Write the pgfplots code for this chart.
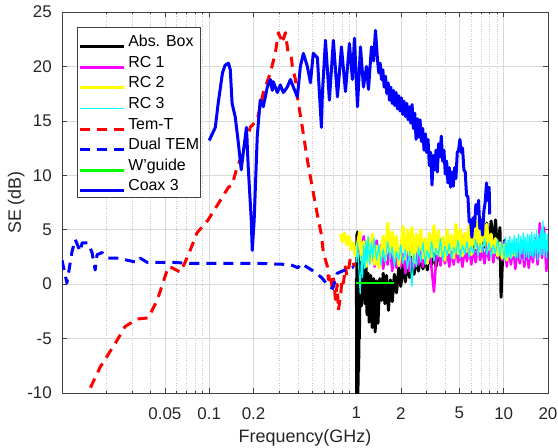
\documentclass[border=0pt]{standalone}
\usepackage{pgfplots}
\pgfplotsset{compat=1.18}
\usepackage{fontspec}
\setmainfont{Liberation Sans}
\definecolor{cMag}{rgb}{1,0,1}
\definecolor{cYel}{rgb}{1,1,0}
\definecolor{cCya}{rgb}{0,1,1}
\definecolor{cRed}{rgb}{1,0,0}
\definecolor{cBlu}{rgb}{0,0,1}
\definecolor{cGre}{rgb}{0,1,0}
\begin{document}
\begin{tikzpicture}
\useasboundingbox (-62bp,-55bp) rectangle (496bp,393bp);
\begin{axis}[
  at={(0,0)}, anchor=south west,
  width=486bp, height=381bp, scale only axis,
  xmode=log, log basis x=10,
  xmin=0.01, xmax=20, ymin=-10, ymax=25,
  xtick={0.05,0.1,0.2,1,2,5,10,20},
  xticklabels={0.05,0.1,0.2,1,2,5,10,20},
  minor xtick={0.02,0.03,0.04,0.06,0.07,0.08,0.09,0.3,0.4,0.5,0.6,0.7,0.8,0.9,3,4,6,7,8,9},
  ytick={-10,-5,0,5,10,15,20,25},
  yticklabels={-10,-5,0,5,10,15,20,25},
  /pgf/number format/assume math mode=true,
  tick align=inside, tick pos=both,
  major tick length=5bp, minor tick length=2.5bp,
  tick style={black!75, line width=0.5bp},
  axis line style={black!75, line width=0.5bp},
  grid=both,
  major grid style={black!15, line width=0.5bp},
  minor grid style={black!22, line width=0.5bp, dotted},
  ticklabel style={font=\fontsize{17}{20}\selectfont, text=black!85},
  xticklabel style={inner sep=0pt, yshift=-14bp},
  yticklabel style={inner sep=0pt, xshift=-10bp},
  xlabel={Frequency(GHz)}, ylabel={SE (dB)},
  label style={font=\fontsize{18}{21}\selectfont, text=black!85},
  xlabel style={at={(axis description cs:0.5,-0.1312)}, anchor=base},
  ylabel style={at={(axis description cs:-0.0844,0.5)}, anchor=base},
  legend style={at={(axis description cs:0.0309,0.9606)}, anchor=north west,
    draw=black!75, line width=0.5bp, fill=white,
    font=\fontsize{16}{19}\selectfont,
    inner xsep=1.5bp, inner ysep=3.4bp, row sep=1.6bp, column sep=2.5bp,
    nodes={inner xsep=0bp, inner ysep=0bp, text height=16bp, text depth=3bp, anchor=base west}},
  legend cell align=left,
  legend image code/.code={\draw[#1] (0bp,0bp) -- (44bp,0bp);},
  every axis plot/.append style={line join=round},
]
% Abs. Box
\addplot[black, line width=3bp] coordinates {
(1.000,0.5) (1.003,-10.5) (1.008,4.6) (1.013,-10.5) (1.018,4.8) (1.024,-10.5) (1.030,4.4) (1.036,-8.0)
(1.042,4.2) (1.048,-5.0) (1.055,3.8) (1.062,-1.5) (1.07,3.0) (1.08,-2.0) (1.09,2.5) (1.10,-1.0)
(1.12,2.0) (1.14,-1.8) (1.16,1.8) (1.18,-2.8) (1.20,1.0) (1.22,-3.5) (1.25,0.8) (1.28,-4.0)
(1.31,0.5) (1.34,-4.4) (1.37,0.3) (1.40,-3.6) (1.44,0.5) (1.48,-1.5) (1.52,1.0) (1.56,-1.8)
(1.60,0.8) (1.65,-2.4) (1.70,0.4) (1.75,-1.6) (1.81,0.9) (1.87,-0.8) (1.94,1.5) (2.00,-0.2)
(2.07,1.8) (2.15,0.2) (2.22,2.2) (2.30,0.6) (2.38,2.5) (2.46,0.9) (2.55,2.4) (2.64,1.2)
(2.73,2.8) (2.83,1.4) (2.93,2.6) (3.03,1.3) (3.13,3.0) (3.24,1.8) (3.36,2.8) (3.47,1.6)
(3.60,3.2) (3.72,2.0) (3.85,3.4) (3.99,2.2) (4.13,3.5) (4.27,2.0) (4.42,3.8) (4.58,2.4)
(4.74,4.0) (4.90,2.6) (5.07,4.8) (5.25,2.9) (5.44,4.5) (5.63,3.0) (5.82,4.3) (6.03,2.7)
(6.24,4.6) (6.46,3.2) (6.68,4.9) (6.92,3.1) (7.16,5.4) (7.41,3.4) (7.67,5.6) (7.94,3.0)
(8.22,5.8) (8.51,3.2) (8.80,5.9) (9.11,2.4) (9.43,5.2) (9.60,-1.2) (9.76,1.5) (10.1,4.0) (10.4,2.5)
};
\addlegendentry{Abs. Box}
% RC 1
\addplot[cMag, line width=2.5bp] coordinates {
(1.03,2.5) (1.05,4.2) (1.08,2.8) (1.12,4.4) (1.16,2.2) (1.20,3.6) (1.24,2.0) (1.28,3.2)
(1.33,1.6) (1.37,4.0) (1.42,2.3) (1.47,3.6) (1.52,1.4) (1.57,3.0) (1.63,1.8) (1.69,3.8)
(1.75,1.2) (1.81,2.8) (1.87,1.5) (1.94,3.3) (2.00,1.6) (2.07,2.8) (2.15,1.0) (2.22,3.0)
(2.30,1.2) (2.38,2.4) (2.46,1.5) (2.55,3.4) (2.64,1.8) (2.73,3.1) (2.83,1.6) (2.93,3.5)
(3.03,1.9) (3.13,3.2) (3.24,1.4) (3.36,-0.7) (3.47,2.0) (3.60,3.6) (3.72,1.7) (3.85,3.2)
(3.99,1.9) (4.13,3.4) (4.27,1.6) (4.42,3.1) (4.58,1.8) (4.74,3.6) (4.90,2.0) (5.07,3.0)
(5.25,1.6) (5.44,3.3) (5.63,2.1) (5.82,3.4) (6.03,1.8) (6.24,3.2) (6.46,2.0) (6.68,3.6)
(6.92,2.2) (7.16,3.3) (7.41,1.9) (7.67,3.5) (7.94,2.2) (8.22,3.8) (8.51,2.0) (8.80,3.4)
(9.11,2.4) (9.43,3.6) (9.76,2.2) (10.1,3.9) (10.5,1.6) (10.8,3.4) (11.2,1.8) (11.6,3.6)
(12.0,1.4) (12.4,3.2) (12.9,1.9) (13.3,3.7) (13.8,1.6) (14.3,3.4) (14.8,1.5) (15.3,3.6)
(15.8,2.0) (16.4,4.2) (17.0,1.8) (17.6,5.6) (18.2,2.4) (18.8,5.2) (19.5,1.2) (20.0,4.0)
};
\addlegendentry{RC 1}
% RC 2
\addplot[cYel, line width=3bp] coordinates {
(0.78,4.6) (0.80,3.9) (0.83,4.7) (0.86,3.6) (0.89,4.4) (0.92,3.2) (0.95,3.8) (0.98,2.6)
(1.01,3.4) (1.05,4.8) (1.08,2.2) (1.12,3.9) (1.16,1.6) (1.20,4.2) (1.24,2.0) (1.28,4.6)
(1.33,1.8) (1.37,3.5) (1.42,1.5) (1.47,3.0) (1.52,4.4) (1.57,2.2) (1.63,5.6) (1.69,3.0)
(1.75,4.8) (1.81,2.4) (1.87,4.4) (1.94,1.7) (2.00,3.2) (2.07,5.3) (2.15,2.3) (2.22,5.0)
(2.30,2.6) (2.38,5.2) (2.46,2.0) (2.55,4.6) (2.64,2.8) (2.73,5.0) (2.83,2.4) (2.93,4.2)
(3.03,1.9) (3.13,4.7) (3.24,2.5) (3.36,5.4) (3.47,2.8) (3.60,4.9) (3.72,2.6) (3.85,4.3)
(3.99,2.2) (4.13,5.0) (4.27,2.9) (4.42,4.5) (4.58,2.4) (4.74,5.5) (4.90,2.8) (5.07,5.0)
(5.25,2.6) (5.44,4.7) (5.63,3.0) (5.82,5.4) (6.03,2.7) (6.24,5.6) (6.46,3.3) (6.68,5.8)
(6.92,3.0) (7.16,6.1) (7.41,3.6) (7.67,5.5) (7.94,3.2) (8.22,4.6) (8.51,2.9) (8.80,4.2)
(9.11,2.6) (9.43,3.8) (9.76,2.4) (10.1,3.6) (10.5,2.2) (10.8,3.4) (11.2,2.5) (11.6,3.2) (12.0,2.6)
};
\addlegendentry{RC 2}
% RC 3
\addplot[cCya, line width=1.2bp] coordinates {
(1.00,2.0) (1.02,3.8) (1.04,1.2) (1.06,-0.9) (1.08,2.6) (1.10,0.6) (1.12,3.5) (1.14,1.4)
(1.16,4.0) (1.18,2.0) (1.20,4.4) (1.23,1.8) (1.26,3.8) (1.29,2.4) (1.32,4.2)
(1.37,2.2) (1.42,3.6) (1.47,1.8) (1.52,3.2) (1.57,2.0) (1.63,3.9) (1.69,2.3) (1.75,3.4)
(1.81,1.6) (1.87,3.0) (1.94,2.2) (2.00,3.6) (2.07,1.9) (2.15,3.2) (2.22,1.4) (2.30,3.0)
(2.38,-0.2) (2.46,2.8) (2.55,1.6) (2.64,3.4) (2.73,2.0) (2.83,3.8) (2.93,1.8) (3.03,3.1)
(3.13,2.3) (3.24,3.9) (3.36,2.1) (3.47,3.3) (3.60,2.5) (3.72,4.2) (3.85,2.2) (3.99,3.5)
(4.13,2.6) (4.27,3.7) (4.42,2.3) (4.58,3.4) (4.74,2.8) (4.90,4.0) (5.07,2.4) (5.25,3.6)
(5.44,2.7) (5.63,3.9) (5.82,2.5) (6.03,3.5) (6.24,2.8) (6.46,4.1) (6.68,2.6) (6.92,3.7)
(7.16,2.9) (7.41,4.2) (7.67,2.7) (7.94,3.8) (8.22,2.5) (8.51,3.6) (8.80,2.8) (9.11,4.1)
(9.43,2.6) (9.76,3.9) (10.1,2.2) (10.3,4.3) (10.5,2.4) (10.7,4.0) (10.8,2.5) (11.0,4.4)
(11.2,2.3) (11.4,4.1) (11.6,2.7) (11.8,4.5) (12.0,2.4) (12.2,4.2) (12.4,2.4) (12.6,4.6)
(12.9,2.3) (13.1,4.4) (13.3,2.8) (13.6,4.7) (13.8,2.2) (14.0,4.3) (14.3,2.5) (14.5,4.6)
(14.8,2.3) (15.0,4.5) (15.3,2.6) (15.5,4.8) (15.8,2.4) (16.1,4.6) (16.4,2.6) (16.7,4.9)
(17.0,2.2) (17.3,4.6) (17.6,2.5) (17.9,5.0) (18.2,2.7) (18.5,5.8) (18.8,2.6) (19.1,4.8)
(19.5,2.4) (19.8,4.6) (20.0,3.0)
};
\addlegendentry{RC 3}
% Tem-T
\addplot[cRed, line width=3bp, dash pattern=on 10bp off 7bp] coordinates {
(0.0145,-11.0) (0.0150,-10.0) (0.0182,-7.6) (0.0231,-5.4) (0.0268,-3.9) (0.0299,-3.5)
(0.0324,-3.2) (0.0385,-3.1) (0.0443,-1.5) (0.0487,0.2) (0.0527,1.6) (0.0560,1.5)
(0.0635,1.1) (0.0680,1.9) (0.0742,3.1) (0.0825,4.7) (0.0983,5.9) (0.119,7.7) (0.135,8.9)
(0.143,9.1) (0.155,10.8) (0.170,12.0) (0.190,14.4) (0.212,15.1) (0.233,17.6) (0.260,19.4)
(0.281,21.2) (0.295,23.1) (0.305,22.6) (0.312,23.0) (0.319,22.5) (0.329,23.1) (0.344,21.2)
(0.360,21.0) (0.367,20.0) (0.385,18.8) (0.397,17.2) (0.429,14.4) (0.464,11.4) (0.509,8.4)
(0.551,5.9) (0.575,4.7) (0.596,2.9) (0.635,1.6) (0.645,0.4) (0.66,1.0) (0.687,-0.5)
(0.70,0.5) (0.720,-1.4) (0.74,0.0) (0.754,-2.4) (0.778,-1.2) (0.80,0.5) (0.816,0.1)
(0.842,1.6) (0.86,0.8) (0.882,1.3) (0.91,2.4) (0.939,2.2) (0.969,1.6)
};
\addlegendentry{Tem-T}
% Dual TEM
\addplot[cBlu, line width=3bp, dash pattern=on 10bp off 7bp] coordinates {
(0.0100,2.2) (0.0108,0.1) (0.0117,3.0) (0.0123,4.1) (0.0133,3.0) (0.0137,3.8) (0.0150,3.8)
(0.0160,2.9) (0.0168,1.3) (0.0173,2.7) (0.0187,2.9) (0.0206,2.4) (0.0248,2.4) (0.0277,2.2)
(0.0324,2.0) (0.0339,2.4) (0.0379,2.0) (0.0464,2.0) (0.0569,2.0) (0.0742,1.9) (0.119,1.9)
(0.222,1.9) (0.356,1.8) (0.40,1.5) (0.42,1.9) (0.51,1.2) (0.58,0.6) (0.64,-0.1)
(0.69,-0.4) (0.74,1.0) (0.87,1.4) (0.96,1.6)
};
\addlegendentry{Dual TEM}
% W'guide
\addplot[cGre, line width=2.5bp] coordinates {(1.0,0.1) (1.8,0.1)};
\addlegendentry{W'guide}
% Coax 3
\addplot[cBlu, line width=3bp] coordinates {
(0.100,13.2) (0.110,14.4) (0.115,16.6) (0.123,19.4) (0.128,20.1) (0.135,20.3) (0.139,19.7)
(0.143,16.6) (0.150,15.4) (0.157,13.2) (0.165,10.5) (0.170,12.0) (0.179,14.4) (0.184,10.8)
(0.193,5.9) (0.196,3.1) (0.202,5.9) (0.212,13.6) (0.222,16.9) (0.233,16.3) (0.248,18.1)
(0.260,18.8) (0.268,17.8) (0.272,18.6) (0.290,17.6) (0.304,18.3) (0.319,17.6) (0.339,18.1)
(0.356,18.8) (0.373,18.1) (0.397,17.2) (0.416,20.0) (0.436,21.2) (0.464,20.0) (0.487,18.5)
(0.509,21.2) (0.543,20.8) (0.578,14.4) (0.587,17.5) (0.616,22.4) (0.655,16.9) (0.697,22.4)
(0.743,17.2) (0.791,21.8) (0.842,17.7) (0.896,22.1) (0.939,18.8) (0.969,22.6) (1.016,16.3)
(1.065,21.8) (1.116,18.1) (1.170,20.0) (1.207,17.9) (1.265,21.8) (1.305,20.5) (1.347,23.3)
(1.390,20.6) (1.419,19.4) (1.449,20.3) (1.480,18.8) (1.511,19.7) (1.542,18.1) (1.575,19.1)
(1.608,17.5) (1.642,18.5) (1.676,16.9) (1.711,18.1) (1.747,16.6) (1.784,17.8) (1.821,16.4)
(1.860,17.6) (1.899,16.1) (1.939,17.3) (1.979,15.9) (2.021,17.1) (2.063,15.6) (2.107,16.8)
(2.151,15.4) (2.196,16.6) (2.242,15.1) (2.289,16.3) (2.337,14.8) (2.387,16.5) (2.437,14.3)
(2.488,15.7) (2.540,13.3) (2.594,15.2) (2.648,13.5) (2.704,15.1) (2.761,13.1) (2.819,14.3)
(2.878,12.3) (2.938,13.8) (3.000,12.1) (3.063,13.3) (3.127,10.9) (3.193,12.1) (3.260,9.1)
(3.328,11.8) (3.398,10.5) (3.470,12.3) (3.542,10.3) (3.617,12.9) (3.693,11.7) (3.770,13.6)
(3.849,11.3) (3.930,12.3) (4.013,10.1) (4.097,11.3) (4.183,9.3) (4.271,10.7) (4.361,8.9)
(4.452,10.3) (4.546,9.0) (4.641,10.7) (4.739,9.7) (4.838,12.1) (4.940,12.3) (5.044,13.3)
(5.150,12.1) (5.258,12.5) (5.368,10.5) (5.481,10.3) (5.596,8.1) (5.714,8.1) (5.834,5.7)
(5.956,5.9) (6.081,4.3) (6.209,6.1) (6.340,5.3) (6.473,7.3) (6.609,6.5) (6.748,7.7)
(6.889,5.1) (7.034,5.9) (7.182,4.5) (7.333,6.7) (7.487,7.5) (7.644,9.3) (7.804,7.7)
(7.968,8.9) (8.04,6.4)
};
\addlegendentry{Coax 3}
\end{axis}
\end{tikzpicture}
\end{document}
